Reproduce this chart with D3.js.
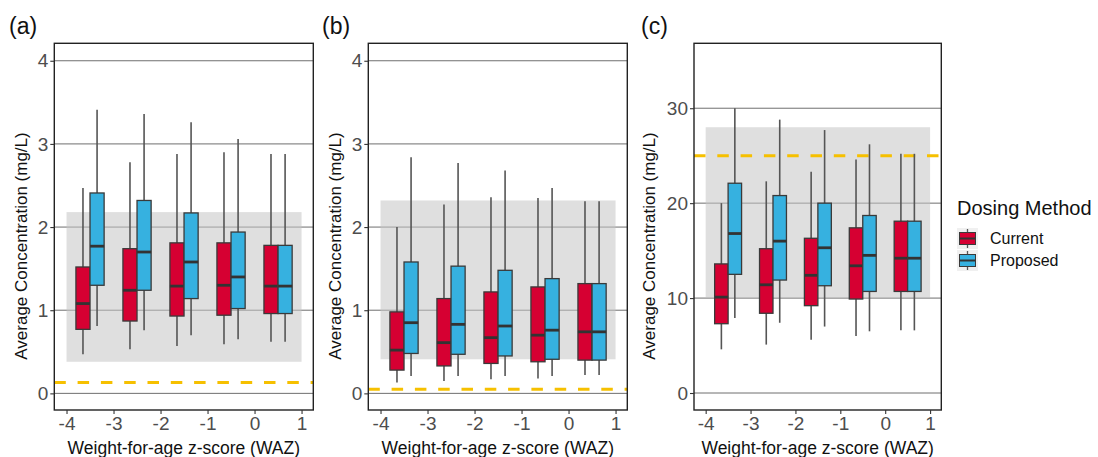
<!DOCTYPE html>
<html>
<head>
<meta charset="utf-8">
<script src="https://cdn.jsdelivr.net/npm/d3@7"></script>
<style>
  body { margin: 0; background: #fff; }
  svg text { font-family: "Liberation Sans", Arial, sans-serif; }
</style>
</head>
<body>
<svg id="chart" width="1098" height="457"></svg>
<script>
// WAZ bin centres (box groups) and axis ticks
const wazBins = [-3.5, -2.5, -1.5, -0.5, 0.5];
const xTicks = [-4, -3, -2, -1, 0, 1];
const methods = ["Current", "Proposed"];
const methodColors = ["#d60032", "#36b1e0"];

// Box statistics per bin: [whisker low, q1, median, q3, whisker high]
const panelA_current = [
  [0.47, 0.77, 1.08, 1.52, 2.47],
  [0.53, 0.87, 1.24, 1.74, 2.78],
  [0.57, 0.93, 1.29, 1.81, 2.88],
  [0.59, 0.94, 1.30, 1.81, 2.90],
  [0.62, 0.96, 1.29, 1.78, 2.88]
];
const panelA_proposed = [
  [0.81, 1.30, 1.77, 2.41, 3.41],
  [0.76, 1.24, 1.70, 2.32, 3.36],
  [0.70, 1.14, 1.58, 2.17, 3.26],
  [0.65, 1.02, 1.40, 1.94, 3.06],
  [0.62, 0.96, 1.29, 1.78, 2.88]
];
const panelB_current = [
  [0.13, 0.28, 0.52, 0.98, 2.00],
  [0.15, 0.33, 0.61, 1.14, 2.27],
  [0.17, 0.36, 0.67, 1.22, 2.36],
  [0.18, 0.38, 0.70, 1.28, 2.35],
  [0.22, 0.40, 0.74, 1.32, 2.31]
];
const panelB_proposed = [
  [0.21, 0.48, 0.85, 1.58, 2.84],
  [0.21, 0.47, 0.83, 1.53, 2.77],
  [0.21, 0.45, 0.81, 1.48, 2.68],
  [0.21, 0.41, 0.76, 1.38, 2.47],
  [0.22, 0.40, 0.74, 1.32, 2.31]
];
const panelC_current = [
  [4.6, 7.3, 10.1, 13.6, 20.0],
  [5.1, 8.4, 11.4, 15.2, 22.3],
  [5.6, 9.2, 12.4, 16.3, 23.3],
  [6.0, 9.9, 13.4, 17.4, 24.6],
  [6.6, 10.7, 14.2, 18.1, 25.2]
];
const panelC_proposed = [
  [7.9, 12.5, 16.8, 22.1, 30.0],
  [7.4, 11.9, 16.0, 20.8, 28.8],
  [7.0, 11.3, 15.3, 20.0, 27.7],
  [6.5, 10.7, 14.5, 18.7, 26.2],
  [6.6, 10.7, 14.2, 18.1, 25.2]
];

// Reference band [low, high] and dashed threshold per panel
const panelA_band = [0.38, 2.18];
const panelB_band = [0.41, 2.32];
const panelC_band = [10.1, 28.0];
const panelA_threshold = 0.13;
const panelB_threshold = 0.05;
const panelC_threshold = 25;

const panelA_yTicks = [0, 1, 2, 3, 4];
const panelB_yTicks = [0, 1, 2, 3, 4];
const panelC_yTicks = [0, 10, 20, 30];

const panels = [
  { tag: "(a)", left: 54.3, right: 313.3, tagX: 9, yDomain: [-0.2, 4.21], yTicks: panelA_yTicks,
    band: panelA_band, threshold: panelA_threshold, series: [panelA_current, panelA_proposed], yTitleX: 21 },
  { tag: "(b)", left: 368.3, right: 627.3, tagX: 322, yDomain: [-0.2, 4.21], yTicks: panelB_yTicks,
    band: panelB_band, threshold: panelB_threshold, series: [panelB_current, panelB_proposed], yTitleX: 335 },
  { tag: "(c)", left: 694, right: 941.3, tagX: 641, yDomain: [-1.79, 36.84], yTicks: panelC_yTicks,
    band: panelC_band, threshold: panelC_threshold, series: [panelC_current, panelC_proposed], yTitleX: 649 }
];

const plotTop = 43.3, plotBottom = 410;
const xDomain = [-4.26, 1.25];
const svg = d3.select("#chart");

panels.forEach(p => {
  const x = d3.scaleLinear().domain(xDomain).range([p.left, p.right]);
  const y = d3.scaleLinear().domain(p.yDomain).range([plotBottom, plotTop]);
  const g = svg.append("g");

  // horizontal major grid
  g.selectAll("line.grid").data(p.yTicks).join("line")
    .attr("x1", p.left).attr("x2", p.right)
    .attr("y1", d => y(d)).attr("y2", d => y(d))
    .attr("stroke", "#6f6f6f").attr("stroke-width", 1);

  // target band
  g.append("rect")
    .attr("x", x(-4)).attr("width", x(1) - x(-4))
    .attr("y", y(p.band[1])).attr("height", y(p.band[0]) - y(p.band[1]))
    .attr("fill", "#c4c4c4").attr("fill-opacity", 0.55);

  // dashed threshold
  g.append("line")
    .attr("x1", p.left).attr("x2", p.right)
    .attr("y1", y(p.threshold)).attr("y2", y(p.threshold))
    .attr("stroke", "#f6c000").attr("stroke-width", 3)
    .attr("stroke-dasharray", "11.5,11.8");

  // boxes: dodge current / proposed within each bin
  const boxW = 0.3;
  p.series.forEach((s, si) => {
    const color = methodColors[si];
    s.forEach((st, bi) => {
      const x0 = wazBins[bi] - boxW + si * boxW;
      const cx = x(x0 + boxW / 2);
      const bg = g.append("g");
      bg.append("line")
        .attr("x1", cx).attr("x2", cx).attr("y1", y(st[0])).attr("y2", y(st[4]))
        .attr("stroke", "#555").attr("stroke-width", 1.6);
      bg.append("rect")
        .attr("x", x(x0)).attr("width", x(x0 + boxW) - x(x0))
        .attr("y", y(st[3])).attr("height", y(st[1]) - y(st[3]))
        .attr("fill", color).attr("stroke", "#3a3a3a").attr("stroke-width", 1.3);
      bg.append("line")
        .attr("x1", x(x0)).attr("x2", x(x0 + boxW))
        .attr("y1", y(st[2])).attr("y2", y(st[2]))
        .attr("stroke", "#333").attr("stroke-width", 2.8);
    });
  });

  // panel border
  g.append("rect")
    .attr("x", p.left).attr("y", plotTop)
    .attr("width", p.right - p.left).attr("height", plotBottom - plotTop)
    .attr("fill", "none").attr("stroke", "#222").attr("stroke-width", 1.4);

  // axes
  const yAxis = d3.axisLeft(y).tickValues(p.yTicks).tickSize(4).tickPadding(2)
    .tickFormat(d3.format("d"));
  const ya = g.append("g").attr("transform", `translate(${p.left},0)`).call(yAxis);
  const xAxis = d3.axisBottom(x).tickValues(xTicks).tickSize(4).tickPadding(3)
    .tickFormat(d => (d < 0 ? "-" + Math.abs(d) : String(d)));
  const xa = g.append("g").attr("transform", `translate(0,${plotBottom})`).call(xAxis);
  [ya, xa].forEach(a => {
    a.select(".domain").remove();
    a.selectAll(".tick line").attr("stroke", "#333").attr("stroke-width", 1.1);
    a.selectAll(".tick text").attr("fill", "#4d4d4d").style("font-size", "19px")
      .style("font-family", "'Liberation Sans', Arial, sans-serif");
  });

  // titles
  g.append("text")
    .attr("x", (p.left + p.right) / 2).attr("y", 454)
    .attr("text-anchor", "middle").style("font-size", "17.5px").attr("fill", "#111")
    .text("Weight-for-age z-score (WAZ)");
  g.append("text")
    .attr("transform", `translate(${p.yTitleX + 6},246) rotate(-90)`)
    .attr("text-anchor", "middle").style("font-size", "17px").attr("fill", "#111")
    .text("Average Concentration (mg/L)");
  g.append("text")
    .attr("x", p.tagX).attr("y", 34)
    .style("font-size", "23px").attr("fill", "#111")
    .text(p.tag);
});

// legend
const lg = svg.append("g").attr("transform", "translate(957,0)");
lg.append("text").attr("x", 0).attr("y", 215)
  .style("font-size", "20px").attr("fill", "#111").text("Dosing Method");
methods.forEach((m, i) => {
  const ky = 228 + i * 22;
  const k = lg.append("g").attr("transform", `translate(0,${ky})`);
  k.append("rect").attr("x", 0).attr("y", 0).attr("width", 21).attr("height", 21).attr("fill", "#f0f0f0");
  k.append("line").attr("x1", 10.5).attr("x2", 10.5).attr("y1", 1).attr("y2", 20)
    .attr("stroke", "#555").attr("stroke-width", 1.3);
  k.append("rect").attr("x", 2.5).attr("y", 4.5).attr("width", 16).attr("height", 12)
    .attr("fill", methodColors[i]).attr("stroke", "#3a3a3a").attr("stroke-width", 1);
  k.append("line").attr("x1", 2.5).attr("x2", 18.5).attr("y1", 10.5).attr("y2", 10.5)
    .attr("stroke", "#333").attr("stroke-width", 2);
  lg.append("text").attr("x", 33).attr("y", ky + 16)
    .style("font-size", "16px").attr("fill", "#111").text(m);
});
</script>
</body>
</html>
